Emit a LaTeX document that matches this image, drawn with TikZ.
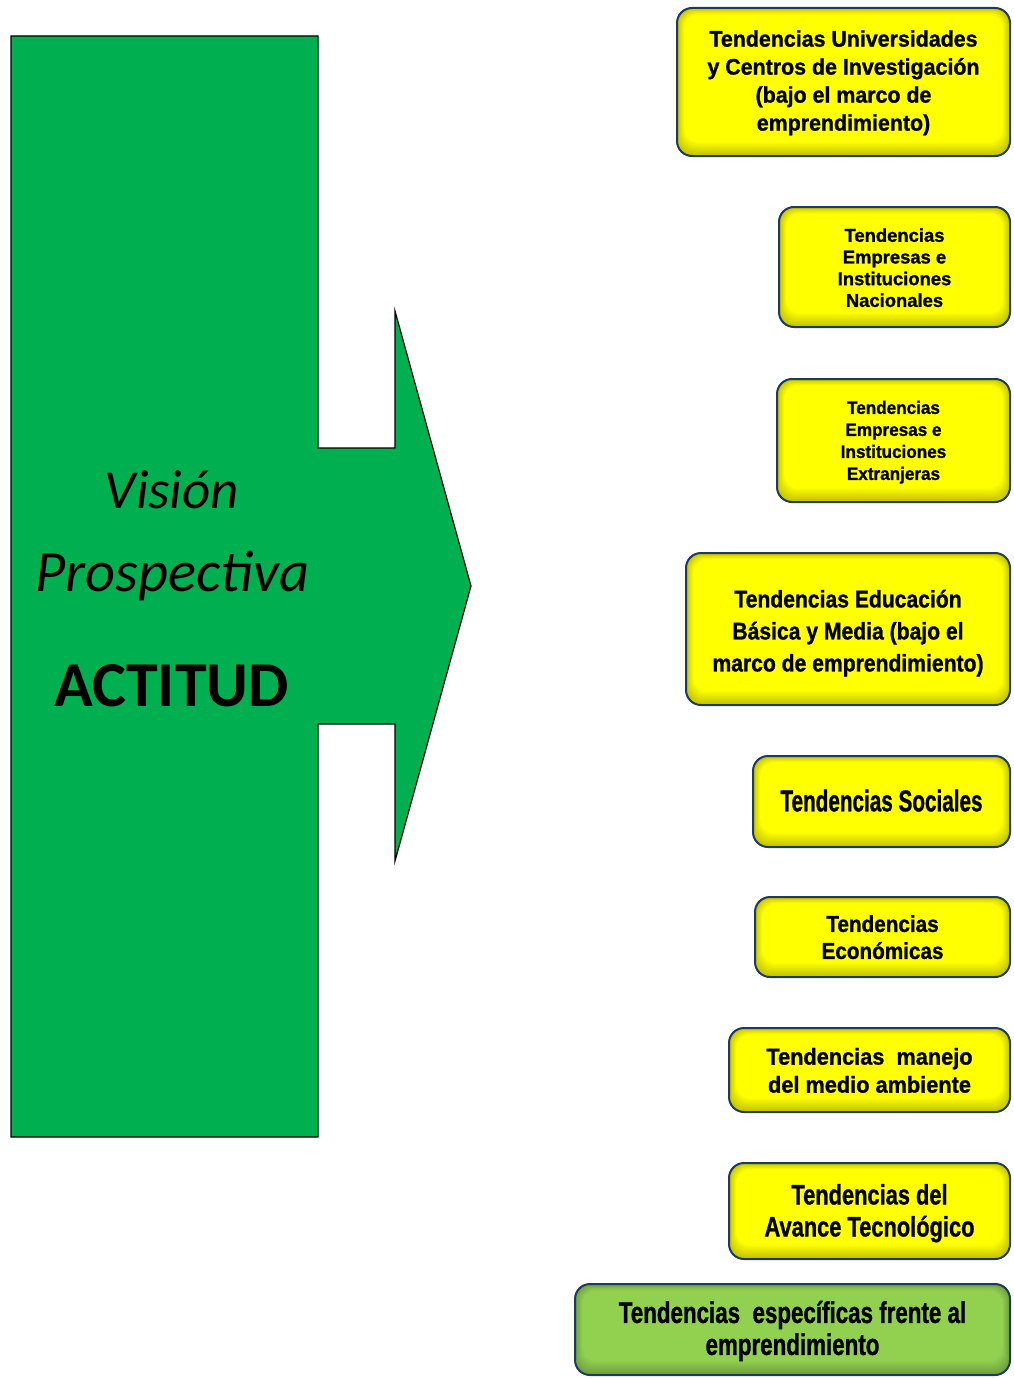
\documentclass[tikz,border=0pt]{standalone}
\usepackage{fontspec}
\usepackage{graphicx}
\setmainfont{Liberation Sans}
\newfontfamily\calfont{Carlito}
\newfontfamily\heavyfont{Liberation Sans}[UprightFont=*-Bold, FakeBold=1.2]

\definecolor{arrowgreen}{HTML}{00AF50}
\definecolor{boxedge}{HTML}{1F3A60}
\definecolor{boxyellow}{HTML}{FFFF00}
\definecolor{boxgreen}{HTML}{92D050}

% condensed, multi-line heavy label: {x-scale}{size}{leading}{lines}
\newcommand\tlines[4]{\scalebox{#1}[1]{\fontsize{#2}{#3}\heavyfont
  \begin{tabular}{@{}c@{}}#4\end{tabular}}}

\tikzset{
  panel/.style={draw=boxedge, line width=2pt, rounded corners=15pt,
    fill=#1!76!black, inner sep=0pt,
    path picture={
      \foreach \i in {1,...,9}{
        \pgfmathsetmacro\mixv{76+\i*24/9}
        \fill[#1!\mixv!black, rounded corners=14pt]
          ([shift={(\i*0.8pt,\i*1.5pt)}]path picture bounding box.south west)
          rectangle
          ([shift={(-\i*0.8pt,-\i*0.7pt)}]path picture bounding box.north east);
      }}},
  tlabel/.style={inner sep=0pt, text=black},
  bigtext/.style={anchor=base, inner sep=0pt, text=black},
}

\begin{document}
\begin{tikzpicture}[x=1pt,y=-1pt]
  \useasboundingbox (0,0) rectangle (1013,1378);

  % broad arrow pointing right
  \draw[line width=1.2pt, fill=arrowgreen, line join=miter]
    (11,36) -- (318,36) -- (318,448) -- (395,448) -- (395,311) -- (471,586)
    -- (395,861) -- (395,724) -- (318,724) -- (318,1137) -- (11,1137) -- cycle;

  \node[bigtext, font=\calfont\itshape\fontsize{55}{60}\selectfont] (vision) at (172,508) {Visión};
  \node[bigtext, font=\calfont\itshape\fontsize{58.5}{62}\selectfont] (prosp) at (172.5,591) {Prospectiva};
  \node[bigtext, font=\calfont\bfseries\fontsize{64}{68}\selectfont] (actitud) at (171.5,706) {ACTITUD};

  % trend boxes
  \node[panel=boxyellow, minimum width=333pt, minimum height=148pt] (b1) at (843.5,82) {};
  \node[panel=boxyellow, minimum width=231pt, minimum height=120pt] (b2) at (894.5,267) {};
  \node[panel=boxyellow, minimum width=233pt, minimum height=123pt] (b3) at (893.5,440.5) {};
  \node[panel=boxyellow, minimum width=324pt, minimum height=152pt] (b4) at (848,629) {};
  \node[panel=boxyellow, minimum width=257pt, minimum height=91pt] (b5) at (881.5,801.5) {};
  \node[panel=boxyellow, minimum width=255pt, minimum height=80pt] (b6) at (882.5,937) {};
  \node[panel=boxyellow, minimum width=281pt, minimum height=84pt] (b7) at (869.5,1070) {};
  \node[panel=boxyellow, minimum width=281pt, minimum height=96pt] (b8) at (869.5,1211) {};
  \node[panel=boxgreen, minimum width=435pt, minimum height=91pt] (b9) at (792.5,1329.5) {};

  \node[tlabel] (t1) at ([yshift=-1pt]b1.center)
    {\tlines{0.95}{22.5}{28}{Tendencias Universidades\\y Centros de Investigación\\(bajo el marco de\\emprendimiento)}};
  \node[tlabel] (t2) at ([yshift=-3pt]b2.center)
    {\tlines{0.99}{18.6}{21.7}{Tendencias\\Empresas e\\Instituciones\\Nacionales}};
  \node[tlabel] (t3) at ([yshift=-2pt]b3.center)
    {\tlines{0.95}{18}{22}{Tendencias\\Empresas e\\Instituciones\\Extranjeras}};
  \node[tlabel] (t4) at ([yshift=-4pt]b4.center)
    {\tlines{0.88}{24}{32}{Tendencias Educación\\Básica y Media (bajo el\\marco de emprendimiento)}};
  \node[tlabel] (t5) at ([yshift=-3pt]b5.center)
    {\tlines{0.69}{30}{34}{Tendencias Sociales}};
  \node[tlabel] (t6) at ([yshift=-3pt]b6.center)
    {\tlines{0.90}{23}{27}{Tendencias\\Económicas}};
  \node[tlabel] (t7) at ([yshift=-3pt]b7.center)
    {\tlines{0.945}{23}{28}{Tendencias~ manejo\\del medio ambiente}};
  \node[tlabel] (t8) at ([yshift=-3pt]b8.center)
    {\tlines{0.78}{28}{32}{Tendencias del\\Avance Tecnológico}};
  \node[tlabel] (t9) at ([yshift=-3pt]b9.center)
    {\tlines{0.745}{30}{32}{Tendencias~ específicas frente al\\emprendimiento}};
\end{tikzpicture}
\end{document}
